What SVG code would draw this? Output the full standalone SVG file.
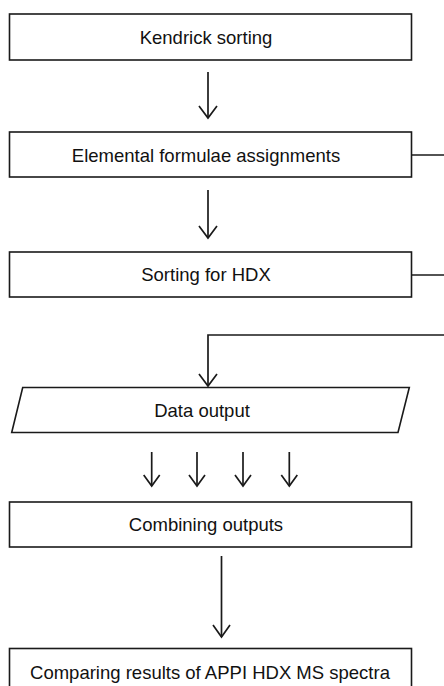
<svg xmlns="http://www.w3.org/2000/svg" width="444" height="686" viewBox="0 0 444 686">
  <style>
    .box { fill: #ffffff; stroke: #1a1a1a; stroke-width: 1.6; }
    .lbl { font-family: "Liberation Sans", Arial, sans-serif; font-size: 18.5px; fill: #111111; text-anchor: middle; }
    .wire { fill: none; stroke: #1a1a1a; stroke-width: 1.7; }
    .head { fill: none; stroke: #1a1a1a; stroke-width: 1.7; stroke-linejoin: miter; }
  </style>
  <rect width="444" height="686" fill="#ffffff"/>

  <g id="kendrick-sorting">
    <rect class="box" x="9.5" y="14" width="402" height="46"/>
    <text class="lbl" x="206" y="44">Kendrick sorting</text>
  </g>

  <g id="elemental-formulae">
    <rect class="box" x="9.5" y="132" width="402" height="45"/>
    <text class="lbl" x="206" y="162">Elemental formulae assignments</text>
  </g>

  <g id="sorting-hdx">
    <rect class="box" x="9.5" y="252" width="402" height="45"/>
    <text class="lbl" x="206" y="281">Sorting for HDX</text>
  </g>

  <g id="data-output">
    <polygon class="box" points="22.7,387.5 409.3,387.5 398,432.5 11.7,432.5"/>
    <text class="lbl" x="202" y="417">Data output</text>
  </g>

  <g id="combining-outputs">
    <rect class="box" x="9.5" y="502" width="402" height="45"/>
    <text class="lbl" x="206" y="531">Combining outputs</text>
  </g>

  <g id="comparing-results">
    <rect class="box" x="9.5" y="648.5" width="402" height="50"/>
    <text class="lbl" x="210" y="679">Comparing results of APPI HDX MS spectra</text>
  </g>

  <g id="connectors">
    <!-- main vertical flow -->
    <line class="wire" x1="208" y1="72" x2="208" y2="118"/>
    <polyline class="head" points="199,106 208,118 217,106"/>

    <line class="wire" x1="208" y1="190" x2="208" y2="238"/>
    <polyline class="head" points="199,226 208,238 217,226"/>

    <!-- side branches leaving to the right -->
    <line class="wire" x1="411.5" y1="155" x2="444" y2="155"/>
    <line class="wire" x1="411.5" y1="275" x2="444" y2="275"/>

    <!-- return line into data output -->
    <polyline class="wire" points="444,335 208,335 208,386"/>
    <polyline class="head" points="199,374 208,386 217,374"/>

    <!-- four parallel outputs -->
    <line class="wire" x1="151.7" y1="452" x2="151.7" y2="486"/>
    <polyline class="head" points="143.7,475 151.7,486 159.7,475"/>
    <line class="wire" x1="197" y1="452" x2="197" y2="486"/>
    <polyline class="head" points="189,475 197,486 205,475"/>
    <line class="wire" x1="243" y1="452" x2="243" y2="486"/>
    <polyline class="head" points="235,475 243,486 251,475"/>
    <line class="wire" x1="289.3" y1="452" x2="289.3" y2="486"/>
    <polyline class="head" points="281.3,475 289.3,486 297.3,475"/>

    <!-- combined result to comparison -->
    <line class="wire" x1="221.5" y1="556" x2="221.5" y2="637"/>
    <polyline class="head" points="213,625 221.5,637 230,625"/>
  </g>
</svg>
